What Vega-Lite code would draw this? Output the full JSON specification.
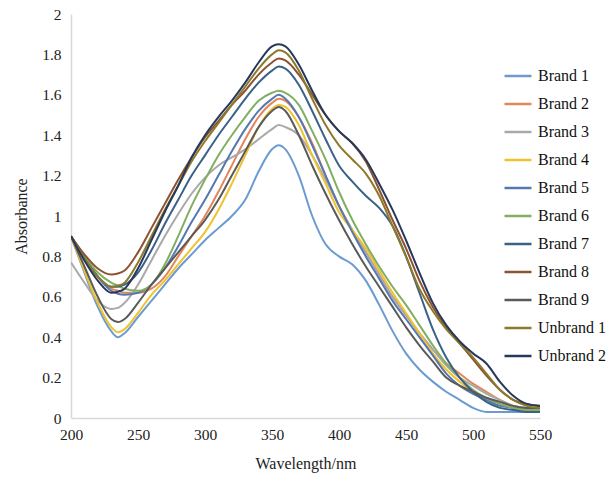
{
  "$schema": "https://vega.github.io/schema/vega-lite/v6.json",
  "width": 469,
  "height": 404,
  "autosize": {"type": "none"},
  "padding": {"left": 71, "top": 14, "right": 72, "bottom": 61},
  "background": "white",
  "config": {
    "view": {"stroke": null},
    "font": "Liberation Serif"
  },
  "data": {
    "values": [
      {"wl": 200, "Brand 1": 0.90, "Brand 2": 0.90, "Brand 3": 0.77, "Brand 4": 0.90, "Brand 5": 0.90, "Brand 6": 0.90, "Brand 7": 0.90, "Brand 8": 0.90, "Brand 9": 0.90, "Unbrand 1": 0.90, "Unbrand 2": 0.90},
      {"wl": 210, "Brand 1": 0.72, "Brand 2": 0.79, "Brand 3": 0.67, "Brand 4": 0.73, "Brand 5": 0.80, "Brand 6": 0.80, "Brand 7": 0.79, "Brand 8": 0.81, "Brand 9": 0.75, "Unbrand 1": 0.79, "Unbrand 2": 0.78},
      {"wl": 220, "Brand 1": 0.55, "Brand 2": 0.70, "Brand 3": 0.58, "Brand 4": 0.57, "Brand 5": 0.70, "Brand 6": 0.72, "Brand 7": 0.70, "Brand 8": 0.74, "Brand 9": 0.60, "Unbrand 1": 0.70, "Unbrand 2": 0.68},
      {"wl": 230, "Brand 1": 0.43, "Brand 2": 0.64, "Brand 3": 0.54, "Brand 4": 0.45, "Brand 5": 0.63, "Brand 6": 0.67, "Brand 7": 0.65, "Brand 8": 0.71, "Brand 9": 0.49, "Unbrand 1": 0.65, "Unbrand 2": 0.62},
      {"wl": 235, "Brand 1": 0.40, "Brand 2": 0.63, "Brand 3": 0.545, "Brand 4": 0.425, "Brand 5": 0.615, "Brand 6": 0.655, "Brand 7": 0.65, "Brand 8": 0.715, "Brand 9": 0.475, "Unbrand 1": 0.655, "Unbrand 2": 0.625},
      {"wl": 240, "Brand 1": 0.42, "Brand 2": 0.62, "Brand 3": 0.57, "Brand 4": 0.44, "Brand 5": 0.61, "Brand 6": 0.64, "Brand 7": 0.66, "Brand 8": 0.73, "Brand 9": 0.49, "Unbrand 1": 0.67, "Unbrand 2": 0.64},
      {"wl": 250, "Brand 1": 0.50, "Brand 2": 0.62, "Brand 3": 0.66, "Brand 4": 0.52, "Brand 5": 0.62, "Brand 6": 0.63, "Brand 7": 0.72, "Brand 8": 0.82, "Brand 9": 0.57, "Unbrand 1": 0.77, "Unbrand 2": 0.74},
      {"wl": 260, "Brand 1": 0.58, "Brand 2": 0.64, "Brand 3": 0.78, "Brand 4": 0.61, "Brand 5": 0.66, "Brand 6": 0.66, "Brand 7": 0.83, "Brand 8": 0.94, "Brand 9": 0.66, "Unbrand 1": 0.90, "Unbrand 2": 0.88},
      {"wl": 270, "Brand 1": 0.66, "Brand 2": 0.70, "Brand 3": 0.90, "Brand 4": 0.68, "Brand 5": 0.74, "Brand 6": 0.76, "Brand 7": 0.96, "Brand 8": 1.06, "Brand 9": 0.74, "Unbrand 1": 1.03, "Unbrand 2": 1.02},
      {"wl": 280, "Brand 1": 0.74, "Brand 2": 0.80, "Brand 3": 1.01, "Brand 4": 0.76, "Brand 5": 0.85, "Brand 6": 0.90, "Brand 7": 1.08, "Brand 8": 1.18, "Brand 9": 0.82, "Unbrand 1": 1.15, "Unbrand 2": 1.15},
      {"wl": 290, "Brand 1": 0.81, "Brand 2": 0.90, "Brand 3": 1.11, "Brand 4": 0.84, "Brand 5": 0.97, "Brand 6": 1.05, "Brand 7": 1.20, "Brand 8": 1.29, "Brand 9": 0.90, "Unbrand 1": 1.27, "Unbrand 2": 1.29},
      {"wl": 300, "Brand 1": 0.88, "Brand 2": 1.00, "Brand 3": 1.19, "Brand 4": 0.92, "Brand 5": 1.08, "Brand 6": 1.18, "Brand 7": 1.30, "Brand 8": 1.39, "Brand 9": 0.98, "Unbrand 1": 1.37, "Unbrand 2": 1.40},
      {"wl": 310, "Brand 1": 0.94, "Brand 2": 1.12, "Brand 3": 1.25, "Brand 4": 1.03, "Brand 5": 1.20, "Brand 6": 1.30, "Brand 7": 1.40, "Brand 8": 1.47, "Brand 9": 1.08, "Unbrand 1": 1.46, "Unbrand 2": 1.49},
      {"wl": 320, "Brand 1": 1.00, "Brand 2": 1.25, "Brand 3": 1.29, "Brand 4": 1.16, "Brand 5": 1.32, "Brand 6": 1.40, "Brand 7": 1.49, "Brand 8": 1.55, "Brand 9": 1.20, "Unbrand 1": 1.55, "Unbrand 2": 1.57},
      {"wl": 330, "Brand 1": 1.08, "Brand 2": 1.38, "Brand 3": 1.33, "Brand 4": 1.30, "Brand 5": 1.43, "Brand 6": 1.49, "Brand 7": 1.58, "Brand 8": 1.62, "Brand 9": 1.32, "Unbrand 1": 1.64, "Unbrand 2": 1.66},
      {"wl": 340, "Brand 1": 1.22, "Brand 2": 1.49, "Brand 3": 1.38, "Brand 4": 1.44, "Brand 5": 1.52, "Brand 6": 1.57, "Brand 7": 1.66, "Brand 8": 1.70, "Brand 9": 1.44, "Unbrand 1": 1.73, "Unbrand 2": 1.76},
      {"wl": 350, "Brand 1": 1.33, "Brand 2": 1.56, "Brand 3": 1.43, "Brand 4": 1.53, "Brand 5": 1.58, "Brand 6": 1.61, "Brand 7": 1.72, "Brand 8": 1.76, "Brand 9": 1.52, "Unbrand 1": 1.80, "Unbrand 2": 1.84},
      {"wl": 355, "Brand 1": 1.35, "Brand 2": 1.58, "Brand 3": 1.45, "Brand 4": 1.55, "Brand 5": 1.60, "Brand 6": 1.62, "Brand 7": 1.74, "Brand 8": 1.78, "Brand 9": 1.54, "Unbrand 1": 1.82, "Unbrand 2": 1.85},
      {"wl": 360, "Brand 1": 1.33, "Brand 2": 1.57, "Brand 3": 1.44, "Brand 4": 1.54, "Brand 5": 1.58, "Brand 6": 1.61, "Brand 7": 1.73, "Brand 8": 1.77, "Brand 9": 1.52, "Unbrand 1": 1.81, "Unbrand 2": 1.84},
      {"wl": 370, "Brand 1": 1.20, "Brand 2": 1.49, "Brand 3": 1.40, "Brand 4": 1.45, "Brand 5": 1.49, "Brand 6": 1.55, "Brand 7": 1.65, "Brand 8": 1.70, "Brand 9": 1.40, "Unbrand 1": 1.72, "Unbrand 2": 1.75},
      {"wl": 380, "Brand 1": 1.00, "Brand 2": 1.36, "Brand 3": 1.30, "Brand 4": 1.30, "Brand 5": 1.35, "Brand 6": 1.42, "Brand 7": 1.52, "Brand 8": 1.60, "Brand 9": 1.25, "Unbrand 1": 1.58, "Unbrand 2": 1.62},
      {"wl": 390, "Brand 1": 0.86, "Brand 2": 1.20, "Brand 3": 1.18, "Brand 4": 1.16, "Brand 5": 1.20, "Brand 6": 1.28, "Brand 7": 1.38, "Brand 8": 1.50, "Brand 9": 1.11, "Unbrand 1": 1.45, "Unbrand 2": 1.50},
      {"wl": 400, "Brand 1": 0.80, "Brand 2": 1.05, "Brand 3": 1.05, "Brand 4": 1.02, "Brand 5": 1.05, "Brand 6": 1.12, "Brand 7": 1.25, "Brand 8": 1.42, "Brand 9": 0.98, "Unbrand 1": 1.35, "Unbrand 2": 1.42},
      {"wl": 410, "Brand 1": 0.76, "Brand 2": 0.93, "Brand 3": 0.93, "Brand 4": 0.93, "Brand 5": 0.92, "Brand 6": 0.98, "Brand 7": 1.17, "Brand 8": 1.36, "Brand 9": 0.86, "Unbrand 1": 1.28, "Unbrand 2": 1.36},
      {"wl": 420, "Brand 1": 0.68, "Brand 2": 0.82, "Brand 3": 0.82, "Brand 4": 0.84, "Brand 5": 0.80, "Brand 6": 0.86, "Brand 7": 1.10, "Brand 8": 1.27, "Brand 9": 0.75, "Unbrand 1": 1.21, "Unbrand 2": 1.28},
      {"wl": 430, "Brand 1": 0.56, "Brand 2": 0.71, "Brand 3": 0.71, "Brand 4": 0.73, "Brand 5": 0.69, "Brand 6": 0.75, "Brand 7": 1.04, "Brand 8": 1.13, "Brand 9": 0.65, "Unbrand 1": 1.10, "Unbrand 2": 1.16},
      {"wl": 440, "Brand 1": 0.43, "Brand 2": 0.60, "Brand 3": 0.60, "Brand 4": 0.62, "Brand 5": 0.58, "Brand 6": 0.65, "Brand 7": 0.95, "Brand 8": 0.98, "Brand 9": 0.55, "Unbrand 1": 0.95, "Unbrand 2": 1.03},
      {"wl": 450, "Brand 1": 0.32, "Brand 2": 0.51, "Brand 3": 0.51, "Brand 4": 0.52, "Brand 5": 0.49, "Brand 6": 0.56, "Brand 7": 0.80, "Brand 8": 0.84, "Brand 9": 0.45, "Unbrand 1": 0.80, "Unbrand 2": 0.88},
      {"wl": 460, "Brand 1": 0.24, "Brand 2": 0.42, "Brand 3": 0.42, "Brand 4": 0.42, "Brand 5": 0.40, "Brand 6": 0.46, "Brand 7": 0.62, "Brand 8": 0.68, "Brand 9": 0.36, "Unbrand 1": 0.64, "Unbrand 2": 0.72},
      {"wl": 470, "Brand 1": 0.18, "Brand 2": 0.34, "Brand 3": 0.34, "Brand 4": 0.32, "Brand 5": 0.31, "Brand 6": 0.36, "Brand 7": 0.44, "Brand 8": 0.55, "Brand 9": 0.28, "Unbrand 1": 0.53, "Unbrand 2": 0.57},
      {"wl": 480, "Brand 1": 0.13, "Brand 2": 0.27, "Brand 3": 0.26, "Brand 4": 0.24, "Brand 5": 0.22, "Brand 6": 0.27, "Brand 7": 0.30, "Brand 8": 0.45, "Brand 9": 0.20, "Unbrand 1": 0.44, "Unbrand 2": 0.46},
      {"wl": 490, "Brand 1": 0.09, "Brand 2": 0.22, "Brand 3": 0.20, "Brand 4": 0.18, "Brand 5": 0.16, "Brand 6": 0.20, "Brand 7": 0.20, "Brand 8": 0.37, "Brand 9": 0.16, "Unbrand 1": 0.37, "Unbrand 2": 0.38},
      {"wl": 500, "Brand 1": 0.05, "Brand 2": 0.17, "Brand 3": 0.16, "Brand 4": 0.13, "Brand 5": 0.12, "Brand 6": 0.14, "Brand 7": 0.13, "Brand 8": 0.29, "Brand 9": 0.13, "Unbrand 1": 0.30, "Unbrand 2": 0.32},
      {"wl": 510, "Brand 1": 0.03, "Brand 2": 0.13, "Brand 3": 0.12, "Brand 4": 0.10, "Brand 5": 0.09, "Brand 6": 0.10, "Brand 7": 0.08, "Brand 8": 0.21, "Brand 9": 0.10, "Unbrand 1": 0.22, "Unbrand 2": 0.27},
      {"wl": 520, "Brand 1": 0.03, "Brand 2": 0.09, "Brand 3": 0.09, "Brand 4": 0.07, "Brand 5": 0.06, "Brand 6": 0.07, "Brand 7": 0.05, "Brand 8": 0.14, "Brand 9": 0.08, "Unbrand 1": 0.14, "Unbrand 2": 0.18},
      {"wl": 530, "Brand 1": 0.03, "Brand 2": 0.06, "Brand 3": 0.06, "Brand 4": 0.05, "Brand 5": 0.05, "Brand 6": 0.05, "Brand 7": 0.04, "Brand 8": 0.09, "Brand 9": 0.06, "Unbrand 1": 0.09, "Unbrand 2": 0.11},
      {"wl": 540, "Brand 1": 0.03, "Brand 2": 0.05, "Brand 3": 0.05, "Brand 4": 0.04, "Brand 5": 0.04, "Brand 6": 0.04, "Brand 7": 0.03, "Brand 8": 0.07, "Brand 9": 0.05, "Unbrand 1": 0.06, "Unbrand 2": 0.07},
      {"wl": 550, "Brand 1": 0.03, "Brand 2": 0.04, "Brand 3": 0.04, "Brand 4": 0.04, "Brand 5": 0.04, "Brand 6": 0.04, "Brand 7": 0.03, "Brand 8": 0.06, "Brand 9": 0.05, "Unbrand 1": 0.05, "Unbrand 2": 0.06}
    ]
  },
  "transform": [
    {"fold": ["Brand 1", "Brand 2", "Brand 3", "Brand 4", "Brand 5", "Brand 6", "Brand 7", "Brand 8", "Brand 9", "Unbrand 1", "Unbrand 2"], "as": ["series", "A"]}
  ],
  "mark": {"type": "line", "interpolate": "monotone", "strokeWidth": 2, "clip": true},
  "encoding": {
    "x": {
      "field": "wl", "type": "quantitative",
      "scale": {"domain": [200, 550], "nice": false, "zero": false},
      "axis": {
        "title": "Wavelength/nm", "values": [200, 250, 300, 350, 400, 450, 500, 550],
        "grid": false, "ticks": false, "domainColor": "#d9d9d9", "domainWidth": 1.5,
        "labelFlush": false, "labelOverlap": false,
        "labelFont": "Liberation Serif", "labelFontSize": 15.5, "labelColor": "#222222", "labelPadding": 9,
        "titleFont": "Liberation Serif", "titleFontSize": 16, "titleFontWeight": "normal", "titleColor": "#222222", "titlePadding": 13
      }
    },
    "y": {
      "field": "A", "type": "quantitative",
      "scale": {"domain": [0, 2], "nice": false},
      "axis": {
        "title": "Absorbance", "values": [0, 0.2, 0.4, 0.6, 0.8, 1, 1.2, 1.4, 1.6, 1.8, 2], "format": "~g",
        "grid": false, "ticks": false, "domainColor": "#d9d9d9", "domainWidth": 1.5,
        "labelFlush": false, "labelOverlap": false,
        "labelFont": "Liberation Serif", "labelFontSize": 15.5, "labelColor": "#222222", "labelPadding": 10,
        "titleFont": "Liberation Serif", "titleFontSize": 16, "titleFontWeight": "normal", "titleColor": "#222222", "titlePadding": 12
      }
    },
    "color": {
      "field": "series", "type": "nominal",
      "scale": {
        "domain": ["Brand 1", "Brand 2", "Brand 3", "Brand 4", "Brand 5", "Brand 6", "Brand 7", "Brand 8", "Brand 9", "Unbrand 1", "Unbrand 2"],
        "range": ["#6A9BD1", "#E3875A", "#A9A9A9", "#F0C22E", "#5578B3", "#82AE62", "#3A6187", "#8E5230", "#5A5A5A", "#8C7A2A", "#26395C"]
      },
      "legend": {
        "title": null, "orient": "none", "legendX": 432, "legendY": 47,
        "symbolType": "stroke", "symbolSize": 729, "symbolStrokeWidth": 2.5,
        "labelFont": "Liberation Serif", "labelFontSize": 16, "labelColor": "#111111",
        "labelOffset": 5, "rowPadding": 5, "padding": 0
      }
    }
  }
}
